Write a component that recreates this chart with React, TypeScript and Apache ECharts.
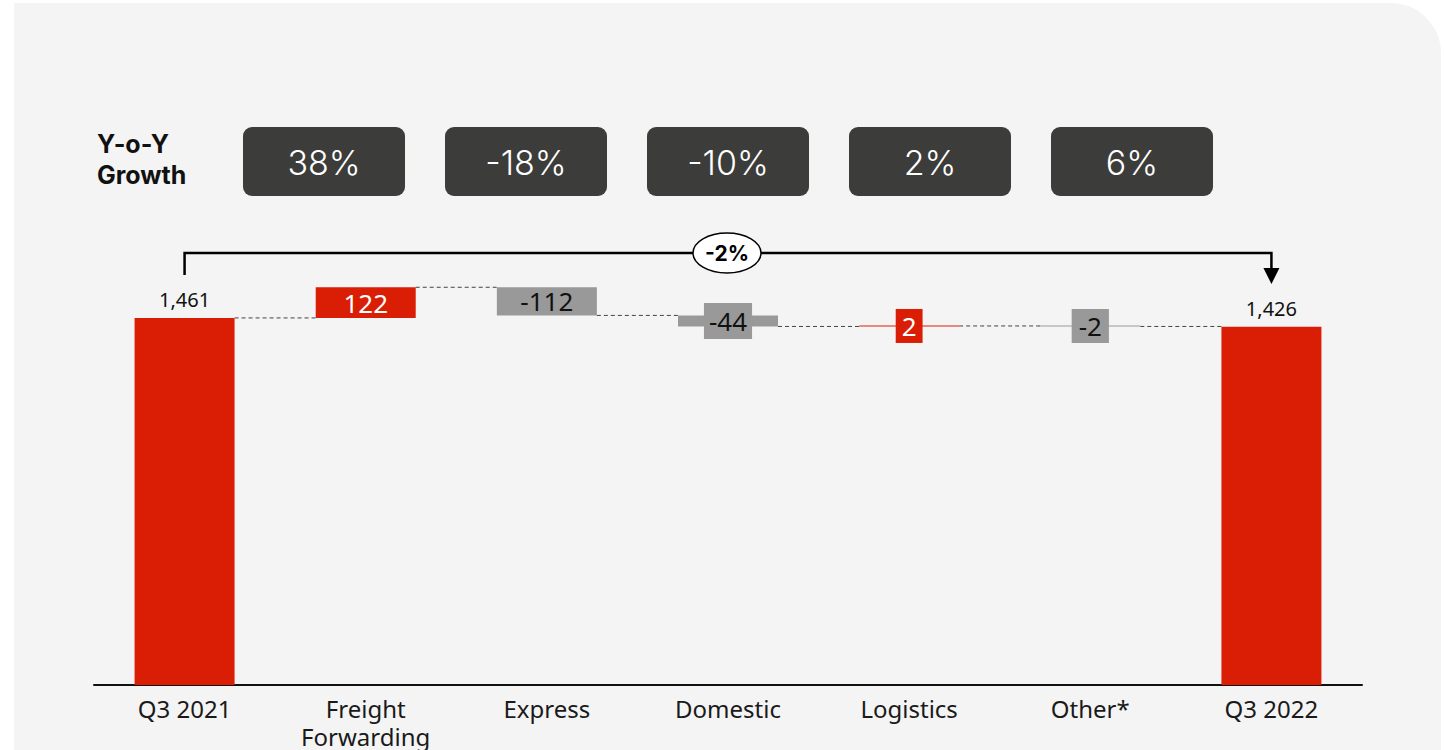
import React, { useEffect, useRef } from "react";
import * as echarts from "echarts";

const categories = ["Q3 2021", "Freight\nForwarding", "Express", "Domestic", "Logistics", "Other*", "Q3 2022"];
const startValue = 1461;
const deltas = [122, -112, -44, 2, -2];
const endValue = 1426;
const growthLabels = ["38%", "-18%", "-10%", "2%", "6%"];
const totalChangeLabel = "-2%";
const growthTitle = "Y-o-Y\nGrowth";

const RED = "#DA1E05";
const GRAY = "#999999";

export default function App() {
  const ref = useRef<HTMLDivElement>(null);
  useEffect(() => {
    if (!ref.current) return;
    const chart = echarts.init(ref.current, null, { renderer: "svg" });

    const base: number[] = [0];
    const bars: number[] = [startValue];
    let cum = startValue;
    deltas.forEach((d) => {
      const next = cum + d;
      base.push(Math.min(cum, next));
      bars.push(Math.abs(d));
      cum = next;
    });
    base.push(0);
    bars.push(endValue);

    const connectors: number[][] = [];
    let c = startValue;
    connectors.push([0, c]);
    deltas.forEach((d, i) => {
      c = c + d;
      connectors.push([i + 1, c]);
    });

    const fmt = (v: number) => v.toLocaleString("en-US");

    const barData = bars.map((v, i) => {
      if (i === 0 || i === bars.length - 1) {
        const val = i === 0 ? startValue : endValue;
        return {
          value: v,
          itemStyle: { color: RED },
          label: {
            show: true,
            position: "top",
            distance: 8,
            color: "#111",
            fontSize: 20,
            fontFamily: "Noto Sans",
            formatter: fmt(val),
          },
        };
      }
      const d = deltas[i - 1];
      const pos = d > 0;
      const small = Math.abs(d) < 60;
      const label: any = {
        show: true,
        position: "inside",
        color: pos ? "#fff" : "#111",
        fontSize: 26,
        fontFamily: "Noto Sans",
        formatter: fmt(d),
      };
      if (small) {
        label.backgroundColor = pos ? RED : GRAY;
        label.lineHeight = 30;
        label.padding = Math.abs(d) > 10 ? [3, 5] : [2, pos ? 6 : 7];
      }
      return { value: v, itemStyle: { color: pos ? RED : GRAY }, label };
    });

    const option: any = {
      animation: false,
      grid: { left: 94, right: 83, top: 283, bottom: 64 },
      xAxis: {
        type: "category",
        data: categories,
        axisLine: { lineStyle: { color: "#111", width: 2 } },
        axisTick: { show: false },
        axisLabel: {
          color: "#1a1a1a",
          fontSize: 24,
          fontFamily: "Noto Sans",
          margin: 9,
          lineHeight: 28,
          verticalAlign: "top",
        },
      },
      yAxis: {
        type: "value",
        min: 0,
        max: 1600,
        show: false,
        splitLine: { show: false },
      },
      series: [
        {
          type: "bar",
          stack: "w",
          data: base,
          barWidth: 100,
          itemStyle: { color: "transparent" },
          silent: true,
        },
        {
          type: "bar",
          stack: "w",
          data: barData,
          barWidth: 100,
          barMinHeight: 1,
        },
        {
          type: "custom",
          data: connectors,
          z: 1,
          renderItem: (params: any, api: any) => {
            const i = api.value(0);
            const lv = api.value(1);
            const p = api.coord([i, lv]);
            const bw = api.size([1, 0])[0];
            return {
              type: "line",
              shape: { x1: p[0] + 50, y1: p[1], x2: p[0] + bw - 50, y2: p[1] },
              style: { stroke: "#444", lineWidth: 1, lineDash: [4, 3] },
            };
          },
        },
      ],
    };
    chart.setOption(option);

    const p0 = chart.convertToPixel({ xAxisIndex: 0, yAxisIndex: 0 }, [0, startValue]) as number[];
    const p6 = chart.convertToPixel({ xAxisIndex: 0, yAxisIndex: 0 }, [6, endValue]) as number[];
    const by = 253;
    const midX = 727;

    const graphics: any[] = [
      {
        type: "rect",
        z: -10,
        silent: true,
        shape: { x: 14, y: 3, width: 1427, height: 800, r: [0, 50, 0, 0] },
        style: { fill: "#F4F4F4" },
      },
      {
        type: "text",
        x: 97,
        y: 128,
        style: {
          text: growthTitle,
          fill: "#111",
          font: "bold 25px Inter",
          lineHeight: 31,
        },
      },
      {
        type: "polyline",
        z: 50,
        shape: { points: [[p0[0], 275], [p0[0], by], [p6[0], by], [p6[0], 270]] },
        style: { stroke: "#000", lineWidth: 2.5, fill: "none" },
      },
      {
        type: "polygon",
        z: 50,
        shape: { points: [[p6[0] - 8, 268], [p6[0] + 8, 268], [p6[0], 284]] },
        style: { fill: "#000" },
      },
      {
        type: "ellipse",
        z: 51,
        shape: { cx: midX, cy: by, rx: 34, ry: 20 },
        style: { fill: "#fff", stroke: "#000", lineWidth: 1.5 },
      },
      {
        type: "text",
        z: 52,
        x: midX,
        y: by,
        style: {
          text: totalChangeLabel,
          fill: "#000",
          font: "bold 21px Inter",
          align: "center",
          verticalAlign: "middle",
        },
      },
    ];
    growthLabels.forEach((g, i) => {
      const x = 243 + i * 202;
      graphics.push({
        type: "rect",
        shape: { x, y: 127, width: 162, height: 69, r: 9 },
        style: { fill: "#3C3C3B" },
      });
      graphics.push({
        type: "text",
        x: x + 81,
        y: 162,
        style: {
          text: g,
          fill: "#fff",
          font: "300 34px Inter",
          align: "center",
          verticalAlign: "middle",
        },
      });
    });
    chart.setOption({ graphic: graphics });

    return () => chart.dispose();
  }, []);

  return (
    <div
      ref={ref}
      style={{ position: "fixed", left: 0, top: 0, width: 1445, height: 750, background: "#fff" }}
    />
  );
}
